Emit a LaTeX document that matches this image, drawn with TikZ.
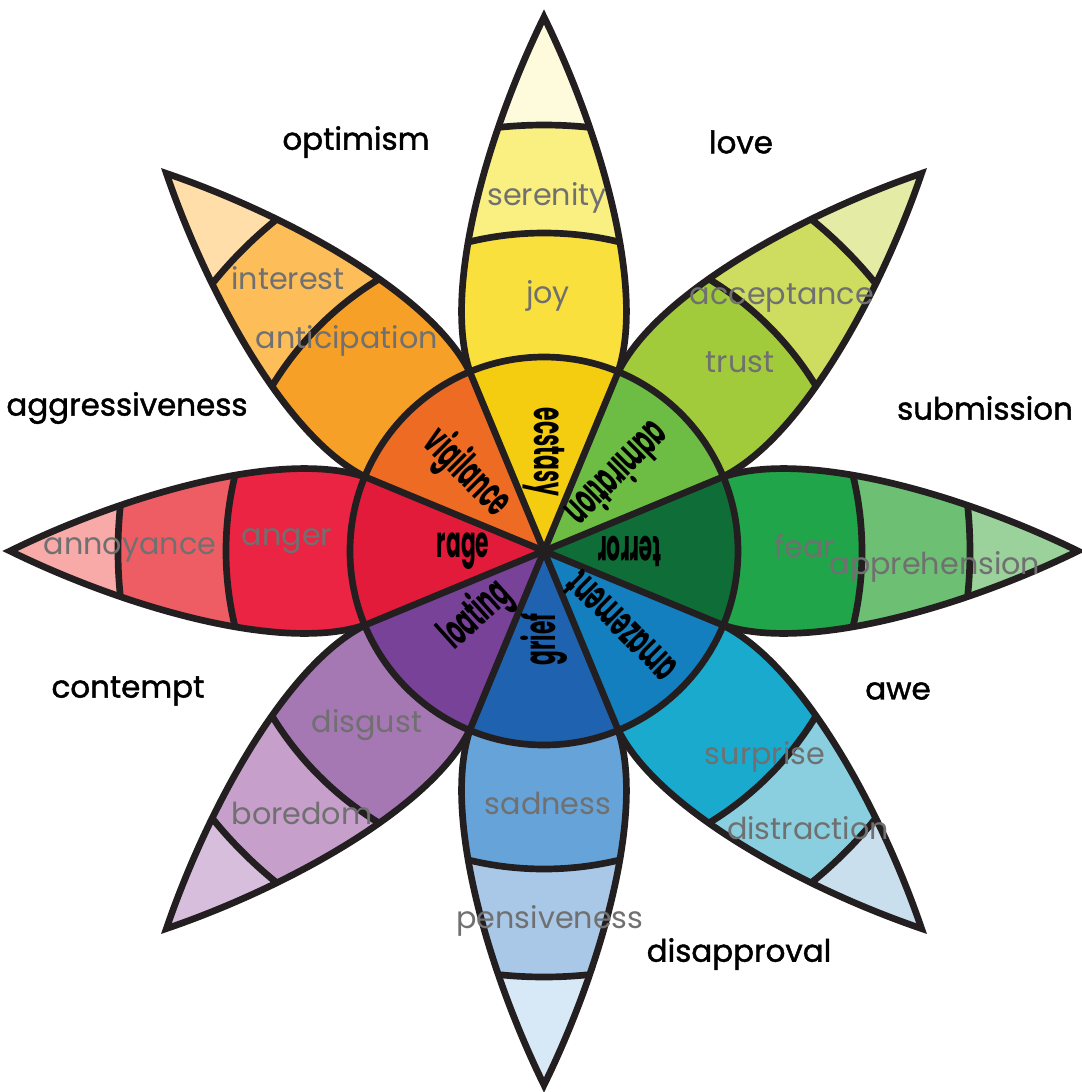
\documentclass[tikz,border=0pt]{standalone}
\usepackage{fontspec}
\usepackage{xcolor}
\usepackage{tikz}
\setmainfont{Poppins}
\newfontfamily\labfont{Poppins}
\newfontfamily\outerfont[FakeBold=1.4]{Poppins}
\newfontfamily\condfont[FakeStretch=0.5]{Poppins}

\definecolor{ink}{HTML}{231F20}
\definecolor{labgray}{HTML}{707070}
% tip, mild, basic, intense
\definecolor{tipjoy}{HTML}{FEFADC}
\definecolor{serenity}{HTML}{FAF082}
\definecolor{joy}{HTML}{FAE03D}
\definecolor{ecstasy}{HTML}{F4CD10}
\definecolor{tiptrust}{HTML}{E4EBA5}
\definecolor{acceptance}{HTML}{CEDD5F}
\definecolor{trust}{HTML}{A2CB3B}
\definecolor{admiration}{HTML}{6DBD45}
\definecolor{tipfear}{HTML}{9BD19A}
\definecolor{apprehension}{HTML}{6DBF74}
\definecolor{fear}{HTML}{20A54A}
\definecolor{terror}{HTML}{0F6E38}
\definecolor{tipsurprise}{HTML}{C9DFEE}
\definecolor{distraction}{HTML}{8ACFE0}
\definecolor{surprise}{HTML}{19AACE}
\definecolor{amazement}{HTML}{137FBE}
\definecolor{tipsadness}{HTML}{D7E8F7}
\definecolor{pensiveness}{HTML}{A9C7E6}
\definecolor{sadness}{HTML}{66A3D9}
\definecolor{grief}{HTML}{1F62AF}
\definecolor{tipdisgust}{HTML}{D8BEDD}
\definecolor{boredom}{HTML}{C6A0CB}
\definecolor{disgust}{HTML}{A577B3}
\definecolor{loating}{HTML}{784298}
\definecolor{tipanger}{HTML}{F7AAA8}
\definecolor{annoyance}{HTML}{EF5D64}
\definecolor{anger}{HTML}{EC2443}
\definecolor{rage}{HTML}{E31B3A}
\definecolor{tipanticipation}{HTML}{FFDEA9}
\definecolor{interest}{HTML}{FDBE5A}
\definecolor{anticipation}{HTML}{F7A028}
\definecolor{vigilance}{HTML}{EE6B23}

% one petal: angle, tip, mild, basic, intense
\newcommand\petal[5]{%
  \begin{scope}[rotate=#1]
    \begin{scope}
      \clip (0,0) -- (179,74) .. controls (262,102) and (420,56) .. (534,0)
            .. controls (420,-56) and (262,-102) .. (179,-74) -- cycle;
      \fill[#2] (0,0) circle (560);
      \fill[#3] (0,0) circle (426);
      \fill[#4] (0,0) circle (318);
      \fill[#5] (0,0) circle (194);
      \draw[wheelline] (0,0) circle (426) (0,0) circle (318);
    \end{scope}
    \draw[wheelline] (179,74) .. controls (262,102) and (420,56) .. (534,0)
          .. controls (420,-56) and (262,-102) .. (179,-74);
  \end{scope}}

\begin{document}
\begin{tikzpicture}[x=0.1mm, y=0.1mm,
    wheelline/.style={line width=1.9pt, draw=ink},
    graylab/.style={text=labgray, font=\labfont\fontsize{8.6}{10}\selectfont, inner sep=0pt},
    outerlab/.style={text=black, font=\outerfont\fontsize{8.8}{10}\selectfont, inner sep=0pt},
    innerlab/.style={text=black, font=\condfont\bfseries\fontsize{12.4}{14}\selectfont, anchor=east, inner sep=0pt}]

    \useasboundingbox[fill=white] (-544,-541) rectangle (538,551);

    \petal{90}{tipjoy}{serenity}{joy}{ecstasy}
    \petal{45}{tiptrust}{acceptance}{trust}{admiration}
    \petal{0}{tipfear}{apprehension}{fear}{terror}
    \petal{-45}{tipsurprise}{distraction}{surprise}{amazement}
    \petal{-90}{tipsadness}{pensiveness}{sadness}{grief}
    \petal{-135}{tipdisgust}{boredom}{disgust}{loating}
    \petal{180}{tipanger}{annoyance}{anger}{rage}
    \petal{135}{tipanticipation}{interest}{anticipation}{vigilance}

    \draw[wheelline] (0,0) circle (194);
    \foreach \a in {22.5,67.5,...,337.5}
        \draw[wheelline] (0,0) -- (\a:194);

    % inner ring
    \node[innerlab, rotate=270] (ecstasyl) at (90:54) {ecstasy};
    \node[innerlab, rotate=225] (admirationl) at (45:42) {admiration};
    \node[innerlab, rotate=180] (terrorl) at (0:53) {terror};
    \node[innerlab, rotate=135] (amazementl) at (-45:39) {amazement};
    \node[innerlab, rotate=90] (griefl) at (-90:62) {grief};
    \node[innerlab, rotate=42] (loatingl) at (-135:53) {loating};
    \node[innerlab, rotate=0] (ragel) at (180:54) {rage};
    \node[innerlab, rotate=315] (vigilancel) at (135:57) {vigilance};

    % petal bands
    \node[graylab] (serenityl) at (3,353) {serenity};
    \node[graylab] (joyl) at (4,255) {joy};
    \node[graylab] (interestl) at (-256,273) {interest};
    \node[graylab] (anticipationl) at (-197,210) {anticipation};
    \node[graylab] (acceptancel) at (238,253) {acceptance};
    \node[graylab] (trustl) at (196,189) {trust};
    \node[graylab] (annoyancel) at (-414,1) {annoyance};
    \node[graylab] (angerl) at (-257,10) {anger};
    \node[graylab] (fearl) at (261,5) {fear};
    \node[graylab] (apprehensionl) at (391,-16) {apprehension};
    \node[graylab] (surprisel) at (221,-206) {surprise};
    \node[graylab] (distractionl) at (264,-277) {distraction};
    \node[graylab] (sadnessl) at (4,-252) {sadness};
    \node[graylab] (pensivenessl) at (6,-370) {pensiveness};
    \node[graylab] (disgustl) at (-177,-174) {disgust};
    \node[graylab] (boredoml) at (-242,-262) {boredom};

    % dyads
    \node[outerlab] (optimism) at (-188,409) {optimism};
    \node[outerlab] (love) at (197,409) {love};
    \node[outerlab] (aggressiveness) at (-417,143) {aggressiveness};
    \node[outerlab] (submission) at (441,143) {submission};
    \node[outerlab] (contempt) at (-416,-140) {contempt};
    \node[outerlab] (awe) at (354,-140) {awe};
    \node[outerlab] (disapproval) at (195,-403) {disapproval};

\end{tikzpicture}
\end{document}
